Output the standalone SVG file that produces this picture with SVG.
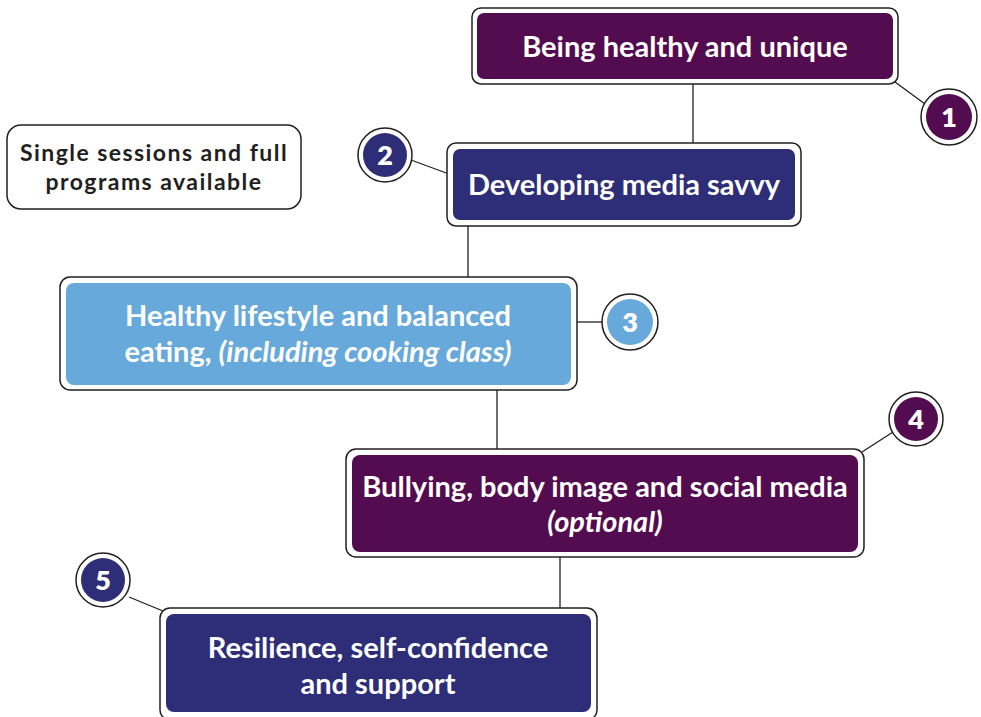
<svg xmlns="http://www.w3.org/2000/svg" width="981" height="717" viewBox="0 0 981 717">
  <style>
    .frame { fill: #ffffff; stroke: #231f20; stroke-width: 1.5; }
    .purple { fill: #520c4f; }
    .navy { fill: #2e2d78; }
    .blue { fill: #67a9da; }
    .label { font-family: Lato, "Open Sans", sans-serif; font-weight: 700; font-size: 29px; fill: #ffffff; text-anchor: middle; }
    .note { font-family: Lato, "Open Sans", sans-serif; font-weight: 700; font-size: 23px; fill: #231f20; text-anchor: middle; letter-spacing: 1.45px; }
    .num { font-family: Lato, "Open Sans", sans-serif; font-weight: 800; font-size: 27px; fill: #ffffff; text-anchor: middle; }
    .link { stroke: #231f20; stroke-width: 1.3; fill: none; }
  </style>

  <rect width="981" height="717" fill="#ffffff"/>

  <!-- connectors -->
  <g id="connectors">
    <line class="link" x1="693" y1="84" x2="693" y2="143"/>
    <line class="link" x1="468" y1="226" x2="468" y2="277"/>
    <line class="link" x1="497" y1="390" x2="497" y2="449"/>
    <line class="link" x1="560" y1="557" x2="560" y2="608"/>
    <line class="link" x1="895" y1="82" x2="925" y2="104"/>
    <line class="link" x1="411" y1="160" x2="449" y2="174"/>
    <line class="link" x1="577" y1="322" x2="602" y2="322"/>
    <line class="link" x1="862" y1="452" x2="893" y2="432"/>
    <line class="link" x1="129" y1="597" x2="163" y2="611"/>
  </g>

  <!-- note -->
  <g id="note">
    <rect class="frame" x="7" y="125" width="294" height="84" rx="14"/>
    <text class="note" x="154" y="161">Single sessions and full</text>
    <text class="note" x="154" y="190">programs available</text>
  </g>

  <g id="step1">
    <rect class="frame" x="472" y="8" width="426" height="76" rx="9"/>
    <rect class="purple" x="477" y="13" width="416" height="66" rx="7"/>
    <text class="label" x="685" y="57">Being healthy and unique</text>
  </g>
  <g id="badge1">
    <circle class="frame" cx="949" cy="117" r="28"/>
    <circle class="purple" cx="949" cy="117" r="23"/>
    <text class="num" x="949" y="127">1</text>
  </g>

  <g id="step2">
    <rect class="frame" x="447" y="143" width="354" height="83" rx="9"/>
    <rect class="navy" x="453" y="149" width="342" height="71" rx="7"/>
    <text class="label" x="624" y="195">Developing media savvy</text>
  </g>
  <g id="badge2">
    <circle class="frame" cx="385" cy="155" r="27"/>
    <circle class="navy" cx="385" cy="155" r="22"/>
    <text class="num" x="385" y="165">2</text>
  </g>

  <g id="step3">
    <rect class="frame" x="60" y="277" width="517" height="113" rx="10"/>
    <rect class="blue" x="66" y="283" width="505" height="102" rx="8"/>
    <text class="label" x="318" y="326">Healthy lifestyle and balanced</text>
    <text class="label" x="318" y="362">eating, <tspan font-style="italic">(including cooking class)</tspan></text>
  </g>
  <g id="badge3">
    <circle class="frame" cx="630" cy="322" r="28"/>
    <circle class="blue" cx="630" cy="322" r="23"/>
    <text class="num" x="630" y="332">3</text>
  </g>

  <g id="step4">
    <rect class="frame" x="346" y="449" width="518" height="108" rx="10"/>
    <rect class="purple" x="352" y="455" width="506" height="97" rx="8"/>
    <text class="label" x="605" y="497">Bullying, body image and social media</text>
    <text class="label" x="605" y="532" font-style="italic">(optional)</text>
  </g>
  <g id="badge4">
    <circle class="frame" cx="916" cy="419" r="27"/>
    <circle class="purple" cx="916" cy="419" r="22"/>
    <text class="num" x="916" y="429">4</text>
  </g>

  <g id="step5">
    <rect class="frame" x="160" y="608" width="437" height="112" rx="10"/>
    <rect class="navy" x="166" y="614" width="425" height="98" rx="8"/>
    <text class="label" x="378" y="658">Resilience, self-confidence</text>
    <text class="label" x="378" y="694">and support</text>
  </g>
  <g id="badge5">
    <circle class="frame" cx="103" cy="580" r="27"/>
    <circle class="navy" cx="103" cy="580" r="22"/>
    <text class="num" x="103" y="590">5</text>
  </g>
</svg>
